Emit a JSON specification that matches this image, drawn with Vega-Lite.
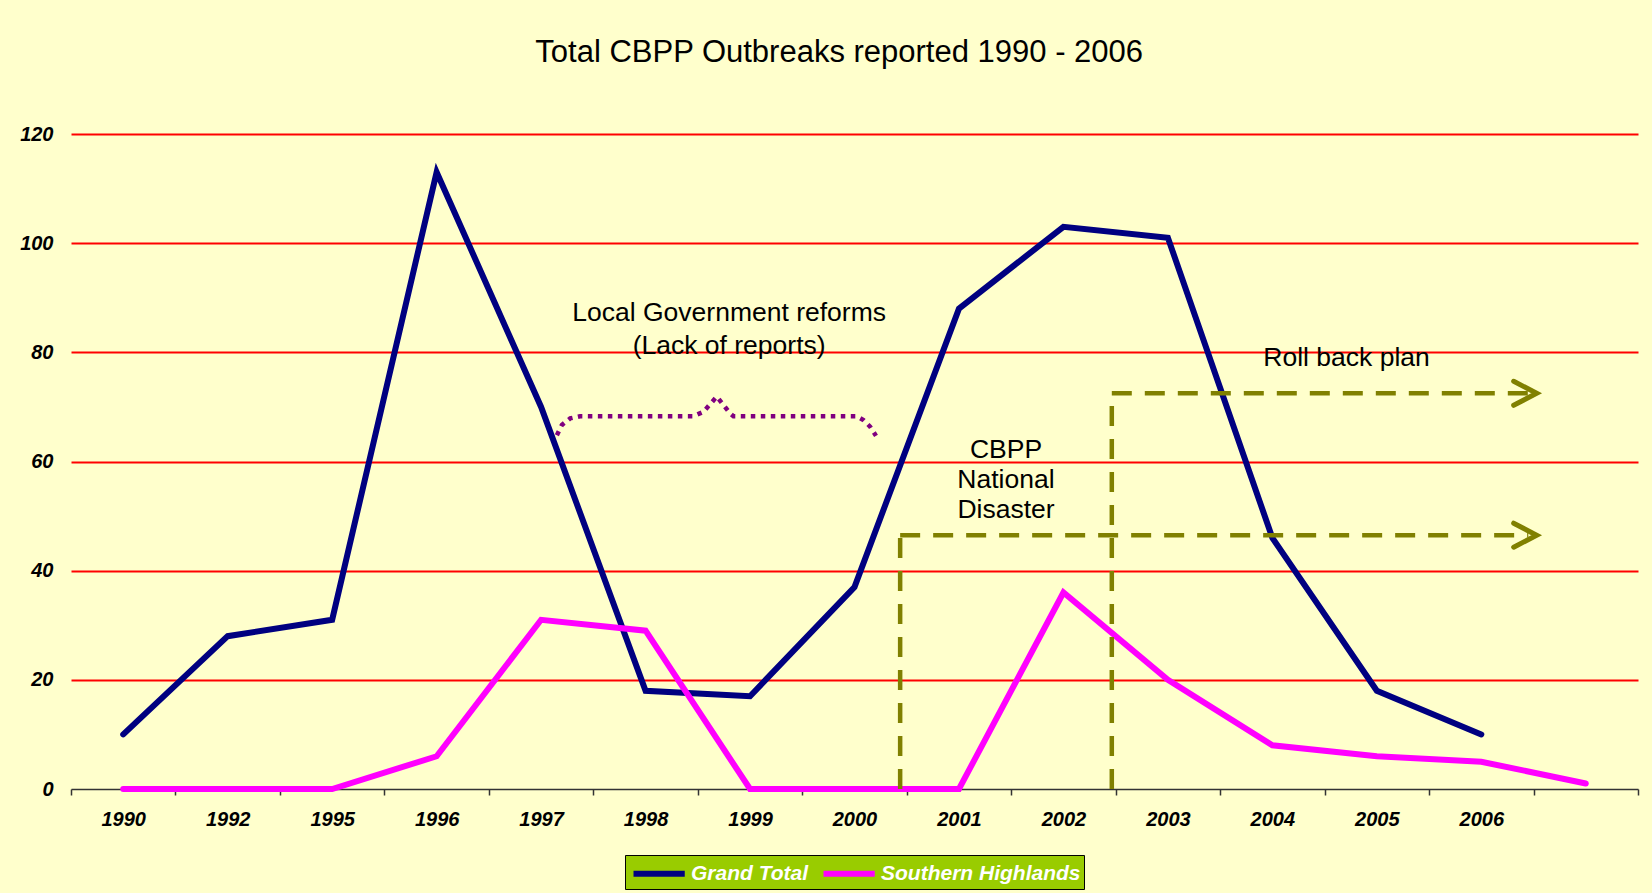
{
  "$schema": "https://vega.github.io/schema/vega-lite/v6.json",
  "width": 1567,
  "height": 655,
  "autosize": {"type": "none"},
  "padding": {"left": 71, "top": 134, "right": 14, "bottom": 104},
  "background": "#FFFFCC",
  "view": {"stroke": null},
  "title": {
    "text": "Total CBPP Outbreaks reported 1990 - 2006",
    "font": "Liberation Sans",
    "fontSize": 31,
    "fontWeight": "normal",
    "color": "#000000",
    "anchor": "middle",
    "frame": "bounds",
    "baseline": "alphabetic",
    "offset": 31,
    "dx": 10
  },
  "datasets": {
    "series": [
      {"year": "1990", "series": "Grand Total", "value": 10},
      {"year": "1992", "series": "Grand Total", "value": 28},
      {"year": "1995", "series": "Grand Total", "value": 31},
      {"year": "1996", "series": "Grand Total", "value": 113},
      {"year": "1997", "series": "Grand Total", "value": 70},
      {"year": "1998", "series": "Grand Total", "value": 18},
      {"year": "1999", "series": "Grand Total", "value": 17},
      {"year": "2000", "series": "Grand Total", "value": 37},
      {"year": "2001", "series": "Grand Total", "value": 88},
      {"year": "2002", "series": "Grand Total", "value": 103},
      {"year": "2003", "series": "Grand Total", "value": 101},
      {"year": "2004", "series": "Grand Total", "value": 46},
      {"year": "2005", "series": "Grand Total", "value": 18},
      {"year": "2006", "series": "Grand Total", "value": 10},
      {"year": "1990", "series": "Southern Highlands", "value": 0},
      {"year": "1992", "series": "Southern Highlands", "value": 0},
      {"year": "1995", "series": "Southern Highlands", "value": 0},
      {"year": "1996", "series": "Southern Highlands", "value": 6},
      {"year": "1997", "series": "Southern Highlands", "value": 31},
      {"year": "1998", "series": "Southern Highlands", "value": 29},
      {"year": "1999", "series": "Southern Highlands", "value": 0},
      {"year": "2000", "series": "Southern Highlands", "value": 0},
      {"year": "2001", "series": "Southern Highlands", "value": 0},
      {"year": "2002", "series": "Southern Highlands", "value": 36},
      {"year": "2003", "series": "Southern Highlands", "value": 20},
      {"year": "2004", "series": "Southern Highlands", "value": 8},
      {"year": "2005", "series": "Southern Highlands", "value": 6},
      {"year": "2006", "series": "Southern Highlands", "value": 5},
      {"year": "2007", "series": "Southern Highlands", "value": 1}
    ],
    "brace": [
      {"pos": 4.151, "value": 64.8, "k": 0},
      {"pos": 4.199, "value": 66.7, "k": 1},
      {"pos": 4.278, "value": 67.9, "k": 2},
      {"pos": 4.374, "value": 68.3, "k": 3},
      {"pos": 5.458, "value": 68.3, "k": 4},
      {"pos": 5.554, "value": 69.1, "k": 5},
      {"pos": 5.682, "value": 71.9, "k": 6},
      {"pos": 5.809, "value": 68.8, "k": 7},
      {"pos": 5.841, "value": 68.3, "k": 8},
      {"pos": 7.021, "value": 68.3, "k": 9},
      {"pos": 7.085, "value": 67.6, "k": 10},
      {"pos": 7.149, "value": 66.4, "k": 11},
      {"pos": 7.206, "value": 64.7, "k": 12}
    ],
    "dashed": [
      {"seg": "v1", "k": 0, "pos": 7.437, "value": 0},
      {"seg": "v1", "k": 1, "pos": 7.437, "value": 46.5},
      {"seg": "h1", "k": 0, "pos": 7.437, "value": 46.5},
      {"seg": "h1", "k": 1, "pos": 13.45, "value": 46.5},
      {"seg": "v2", "k": 0, "pos": 9.463, "value": 0},
      {"seg": "v2", "k": 1, "pos": 9.463, "value": 72.5},
      {"seg": "h2", "k": 0, "pos": 9.463, "value": 72.5},
      {"seg": "h2", "k": 1, "pos": 13.45, "value": 72.5}
    ],
    "arrows": [
      {"seg": "a1", "k": 0, "pos": 13.31, "value": 48.7},
      {"seg": "a1", "k": 1, "pos": 13.53, "value": 46.5},
      {"seg": "a1", "k": 2, "pos": 13.31, "value": 44.3},
      {"seg": "a2", "k": 0, "pos": 13.31, "value": 74.7},
      {"seg": "a2", "k": 1, "pos": 13.53, "value": 72.5},
      {"seg": "a2", "k": 2, "pos": 13.31, "value": 70.3}
    ],
    "notes": [
      {"pos": 5.8, "value": 87.2, "text": "Local Government reforms"},
      {"pos": 5.8, "value": 81.2, "text": "(Lack of reports)"},
      {"pos": 11.71, "value": 78.9, "text": "Roll back plan"},
      {"pos": 8.45, "value": 62.1, "text": "CBPP"},
      {"pos": 8.45, "value": 56.6, "text": "National"},
      {"pos": 8.45, "value": 51.1, "text": "Disaster"}
    ]
  },
  "resolve": {"scale": {"x": "independent"}},
  "layer": [
    {
      "data": {"name": "series"},
      "mark": {"type": "line", "strokeWidth": 6, "strokeCap": "round"},
      "encoding": {
        "x": {
          "field": "year",
          "type": "ordinal",
          "scale": {
            "type": "band",
            "domain": ["1990","1992","1995","1996","1997","1998","1999","2000","2001","2002","2003","2004","2005","2006","2007"],
            "paddingInner": 0,
            "paddingOuter": 0
          },
          "axis": {
            "title": null,
            "tickBand": "extent",
            "labelAngle": 0,
            "labelExpr": "datum.value == '2007' ? '' : datum.value",
            "labelFont": "Liberation Sans",
            "labelFontSize": 20,
            "labelFontWeight": "bold",
            "labelFontStyle": "italic",
            "labelColor": "#000000",
            "labelPadding": 14,
            "domainColor": "#333333",
            "domainWidth": 1.5,
            "tickColor": "#333333",
            "tickWidth": 1.5,
            "tickSize": 6,
            "grid": false
          }
        },
        "y": {
          "field": "value",
          "type": "quantitative",
          "scale": {"domain": [0, 120], "nice": false},
          "axis": {
            "title": null,
            "values": [0, 20, 40, 60, 80, 100, 120],
            "labelFont": "Liberation Sans",
            "labelFontSize": 20,
            "labelFontWeight": "bold",
            "labelFontStyle": "italic",
            "labelColor": "#000000",
            "labelPadding": 18,
            "ticks": false,
            "domain": false,
            "grid": true,
            "gridWidth": 2,
            "gridColor": {"condition": {"test": "datum.value == 0", "value": "transparent"}, "value": "#FF0000"}
          }
        },
        "color": {
          "field": "series",
          "type": "nominal",
          "scale": {"domain": ["Grand Total", "Southern Highlands"], "range": ["#000080", "#FF00FF"]},
          "legend": {
            "title": null,
            "orient": "none",
            "legendX": 554,
            "legendY": 721,
            "direction": "horizontal",
            "fillColor": "#99CC00",
            "strokeColor": "#000000",
            "padding": 3,
            "symbolType": "M-0.8,0H3.3",
            "symbolSize": 625,
            "symbolStrokeWidth": 6,
            "symbolFillColor": "transparent",
            "labelColor": "#FFFFFF",
            "labelFont": "Liberation Sans",
            "labelFontSize": 21,
            "labelFontWeight": "bold",
            "labelFontStyle": "italic",
            "labelOffset": 32,
            "labelLimit": 400,
            "columnPadding": 2
          }
        }
      }
    },
    {
      "data": {"name": "brace"},
      "mark": {"type": "line", "color": "#800080", "strokeWidth": 4.5, "strokeDash": [4.5, 5.5], "strokeCap": "butt"},
      "encoding": {
        "x": {"field": "pos", "type": "quantitative", "scale": {"domain": [-0.5, 14.5], "nice": false, "zero": false}, "axis": null},
        "y": {"field": "value", "type": "quantitative"},
        "order": {"field": "k"}
      }
    },
    {
      "data": {"name": "dashed"},
      "mark": {"type": "line", "color": "#808000", "strokeWidth": 4.5, "strokeDash": [20, 13]},
      "encoding": {
        "x": {"field": "pos", "type": "quantitative", "scale": {"domain": [-0.5, 14.5], "nice": false, "zero": false}, "axis": null},
        "y": {"field": "value", "type": "quantitative"},
        "detail": {"field": "seg"},
        "order": {"field": "k"}
      }
    },
    {
      "data": {"name": "arrows"},
      "mark": {"type": "line", "color": "#808000", "strokeWidth": 5, "strokeCap": "round", "strokeJoin": "miter"},
      "encoding": {
        "x": {"field": "pos", "type": "quantitative", "scale": {"domain": [-0.5, 14.5], "nice": false, "zero": false}, "axis": null},
        "y": {"field": "value", "type": "quantitative"},
        "detail": {"field": "seg"},
        "order": {"field": "k"}
      }
    },
    {
      "data": {"name": "notes"},
      "mark": {"type": "text", "font": "Liberation Sans", "fontSize": 26.5, "color": "#000000", "align": "center", "baseline": "middle"},
      "encoding": {
        "x": {"field": "pos", "type": "quantitative", "scale": {"domain": [-0.5, 14.5], "nice": false, "zero": false}, "axis": null},
        "y": {"field": "value", "type": "quantitative"},
        "text": {"field": "text"}
      }
    }
  ]
}
